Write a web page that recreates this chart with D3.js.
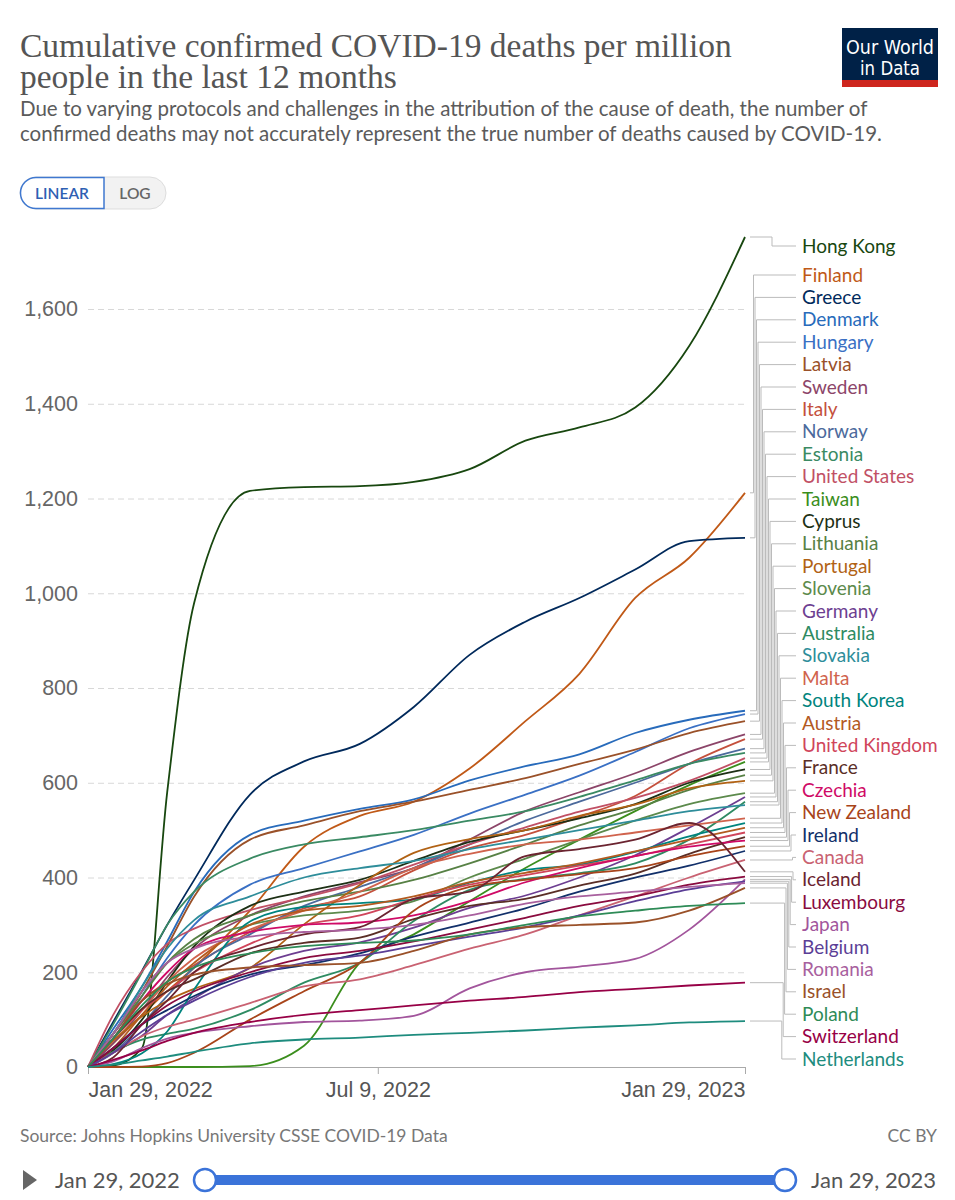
<!DOCTYPE html>
<html>
<head>
<meta charset="utf-8">
<script src="https://cdn.jsdelivr.net/npm/d3@7"></script>
<style>
  body { margin: 0; background: #fff; }
  svg { display: block; font-family: Lato, "Noto Sans", sans-serif; }
</style>
</head>
<body>
<svg id="chart" width="955" height="1200"></svg>
<script>
// Sample dates (shared by every country)
const dates = ["2022-01-29", "2022-02-12", "2022-02-28", "2022-03-14", "2022-03-29",
  "2022-04-29", "2022-05-29", "2022-06-29", "2022-07-29", "2022-08-29",
  "2022-09-29", "2022-10-29", "2022-11-29", "2022-12-29", "2023-01-29"];

const countries = ["Hong Kong", "Finland", "Greece", "Denmark", "Hungary", "Latvia",
  "Sweden", "Italy", "Norway", "Estonia", "United States", "Taiwan", "Cyprus",
  "Lithuania", "Portugal", "Slovenia", "Germany", "Australia", "Slovakia", "Malta",
  "South Korea", "Austria", "United Kingdom", "France", "Czechia", "New Zealand",
  "Ireland", "Canada", "Iceland", "Luxembourg", "Japan", "Belgium", "Romania",
  "Israel", "Poland", "Switzerland", "Netherlands"];

const colors = ["#18470f", "#c05917", "#00295b", "#286bbb", "#3a70c4", "#9a5129",
  "#8c4569", "#c4503c", "#4c6a9c", "#3a8a63", "#c15065", "#3b8e1d", "#1d3015",
  "#578145", "#b16214", "#5c8a4c", "#6d3e91", "#2e8b62", "#2e8d9a", "#d0634d",
  "#00847e", "#b35a1f", "#d0455b", "#5a2e26", "#cf0a66", "#a8441a",
  "#12306a", "#c96272", "#6b2430", "#8a0b3f", "#a2559c", "#5b3e96", "#a8609e",
  "#9a5129", "#2e8b57", "#970046", "#1e8c7e"];

// Cumulative confirmed deaths per million, one row per country, one value per date
const deaths = [
  [0, 3, 40, 580, 980, 1216, 1224, 1226, 1235, 1262, 1322, 1350, 1392, 1522, 1752],
  [0, 50, 110, 160, 210, 330, 465, 530, 560, 630, 730, 830, 990, 1075, 1212],
  [0, 95, 203, 300, 395, 575, 645, 682, 760, 870, 940, 990, 1050, 1110, 1117],
  [0, 80, 170, 265, 370, 490, 520, 545, 565, 605, 635, 660, 705, 733, 752],
  [0, 60, 150, 230, 300, 385, 420, 455, 490, 535, 575, 615, 665, 715, 745],
  [0, 70, 160, 255, 360, 480, 510, 540, 560, 585, 610, 640, 670, 705, 730],
  [0, 50, 120, 190, 250, 320, 360, 390, 420, 480, 540, 580, 620, 665, 702],
  [0, 70, 140, 180, 215, 285, 335, 360, 415, 462, 490, 528, 572, 640, 692],
  [0, 30, 90, 150, 210, 280, 340, 380, 420, 470, 520, 560, 600, 640, 672],
  [0, 90, 200, 300, 370, 440, 470, 485, 500, 520, 540, 570, 605, 640, 663],
  [0, 110, 202, 260, 292, 331, 358, 388, 427, 470, 506, 539, 568, 604, 652],
  [0, 0, 0, 0, 0, 2, 45, 220, 280, 350, 420, 480, 540, 595, 644],
  [0, 35, 100, 180, 255, 340, 370, 395, 435, 475, 500, 525, 555, 600, 628],
  [0, 70, 150, 220, 270, 320, 350, 370, 395, 430, 470, 510, 545, 585, 616],
  [0, 55, 107, 140, 165, 209, 301, 384, 452, 481, 500, 530, 554, 588, 604],
  [0, 70, 160, 220, 260, 300, 320, 330, 350, 400, 440, 480, 520, 555, 578],
  [0, 30, 66, 110, 145, 209, 245, 263, 294, 336, 362, 400, 447, 505, 570],
  [0, 32, 58, 70, 81, 120, 178, 220, 308, 374, 397, 409, 430, 480, 560],
  [0, 70, 170, 250, 310, 360, 400, 420, 435, 460, 480, 500, 520, 540, 553],
  [0, 60, 120, 180, 230, 290, 330, 370, 420, 450, 470, 480, 495, 510, 525],
  [0, 6, 29, 75, 164, 307, 338, 346, 354, 389, 416, 427, 454, 487, 515],
  [0, 40, 110, 170, 220, 300, 330, 340, 360, 390, 410, 430, 455, 480, 505],
  [0, 60, 120, 160, 200, 260, 300, 320, 355, 385, 405, 425, 445, 470, 495],
  [0, 60, 123, 160, 185, 240, 262, 273, 312, 340, 355, 383, 408, 450, 485],
  [0, 60, 140, 200, 250, 285, 300, 305, 320, 350, 390, 420, 445, 465, 478],
  [0, 0, 1, 8, 30, 100, 160, 220, 330, 380, 395, 407, 420, 445, 466],
  [0, 40, 90, 120, 150, 195, 215, 240, 275, 305, 335, 370, 400, 425, 456],
  [0, 30, 65, 85, 100, 135, 170, 185, 215, 250, 280, 320, 360, 400, 437],
  [0, 20, 90, 140, 200, 250, 280, 295, 355, 370, 445, 460, 480, 515, 412],
  [0, 40, 90, 130, 160, 200, 230, 245, 265, 290, 315, 340, 360, 385, 402],
  [0, 12, 40, 60, 72, 86, 95, 98, 108, 166, 200, 212, 228, 290, 396],
  [0, 30, 75, 110, 140, 190, 220, 235, 255, 275, 295, 320, 350, 375, 392],
  [0, 70, 160, 220, 250, 275, 285, 290, 300, 320, 345, 360, 370, 380, 388],
  [0, 60, 140, 175, 195, 210, 215, 220, 245, 280, 295, 300, 305, 330, 378],
  [0, 60, 130, 180, 210, 240, 255, 262, 267, 280, 300, 318, 330, 340, 346],
  [0, 15, 35, 55, 72, 95, 110, 120, 130, 140, 148, 158, 165, 172, 178],
  [0, 5, 14, 22, 32, 50, 58, 62, 68, 72, 77, 83, 88, 94, 97]
];

const yTicks = [0, 200, 400, 600, 800, 1000, 1200, 1400, 1600];
const xTicks = ["2022-01-29", "2022-07-09", "2023-01-29"];

const parse = d3.utcParse("%Y-%m-%d");
const fmtDate = d3.utcFormat("%b %-d, %Y");
const svg = d3.select("#chart");
const plot = { left: 88, right: 745, top: 237, bottom: 1067 };

const x = d3.scaleUtc()
  .domain([parse(dates[0]), parse(dates[dates.length - 1])])
  .range([plot.left, plot.right]);
const y = d3.scaleLinear()
  .domain([0, d3.max(deaths, s => d3.max(s))])
  .range([plot.bottom, plot.top]);

// Header
const title = ["Cumulative confirmed COVID-19 deaths per million", "people in the last 12 months"];
svg.append("g").selectAll("text").data(title).join("text")
  .attr("x", 20).attr("y", (d, i) => 57 + i * 31)
  .attr("fill", "#555")
  .style("font-family", "'Liberation Serif', 'DejaVu Serif', serif")
  .style("font-size", "33.5px")
  .text(d => d);

const subtitle = ["Due to varying protocols and challenges in the attribution of the cause of death, the number of",
  "confirmed deaths may not accurately represent the true number of deaths caused by COVID-19."];
svg.append("g").selectAll("text").data(subtitle).join("text")
  .attr("x", 20).attr("y", (d, i) => 116 + i * 25)
  .attr("fill", "#5b5b5b")
  .style("font-size", "20.5px")
  .text(d => d);

// Logo
const logo = svg.append("g");
logo.append("rect").attr("x", 842).attr("y", 28).attr("width", 96).attr("height", 52).attr("fill", "#002147");
logo.append("rect").attr("x", 842).attr("y", 80).attr("width", 96).attr("height", 7).attr("fill", "#ce261e");
logo.selectAll("text").data(["Our World", "in Data"]).join("text")
  .attr("x", 890).attr("y", (d, i) => 54 + i * 21)
  .attr("text-anchor", "middle").attr("fill", "#fff")
  .attr("textLength", (d, i) => i ? 60 : 88).attr("lengthAdjust", "spacingAndGlyphs")
  .style("font-family", "'Liberation Sans Narrow', 'DejaVu Sans Condensed', sans-serif")
  .style("font-size", "19px")
  .text(d => d);

// Linear / log toggle
const toggle = svg.append("g");
toggle.append("rect").attr("x", 20).attr("y", 177).attr("width", 146).attr("height", 32).attr("rx", 16)
  .attr("fill", "#f2f2f2").attr("stroke", "#ddd");
toggle.append("path")
  .attr("d", "M104,177.5 H36 A15.5,15.5 0 0 0 36,208.5 H104 Z")
  .attr("fill", "#fff").attr("stroke", "#3f78d0").attr("stroke-width", 1.5);
toggle.append("text").attr("x", 62).attr("y", 199).attr("text-anchor", "middle")
  .attr("fill", "#2f5fb3").style("font-size", "15.5px").style("font-weight", 600).text("LINEAR");
toggle.append("text").attr("x", 135).attr("y", 199).attr("text-anchor", "middle")
  .attr("fill", "#666").style("font-size", "15.5px").style("font-weight", 600).text("LOG");

// Y axis with dashed grid
const yAxis = svg.append("g").attr("transform", `translate(${plot.left},0)`)
  .call(d3.axisLeft(y).tickValues(yTicks).tickSize(-(plot.right - plot.left))
    .tickPadding(10).tickFormat(d3.format(",")));
yAxis.select(".domain").remove();
yAxis.selectAll(".tick line").attr("stroke", "#d8d8d8").attr("stroke-dasharray", "6,4");
yAxis.selectAll(".tick").filter(d => d === 0).select("line").remove();
yAxis.selectAll(".tick text").attr("fill", "#666").style("font-size", "21.5px");

// X axis
const xAxis = svg.append("g").attr("transform", `translate(0,${plot.bottom})`)
  .call(d3.axisBottom(x).tickValues(xTicks.map(parse)).tickSize(7).tickSizeOuter(0)
    .tickPadding(8).tickFormat(fmtDate));
xAxis.select(".domain").attr("stroke", "#aaa");
xAxis.selectAll(".tick line").attr("stroke", "#aaa");
xAxis.selectAll(".tick text").attr("fill", "#555").style("font-size", "21.5px")
  .attr("text-anchor", (d, i) => i === 0 ? "start" : i === xTicks.length - 1 ? "end" : "middle");

// Lines
const line = d3.line()
  .x((d, i) => x(parse(dates[i])))
  .y(d => y(d))
  .curve(d3.curveMonotoneX);

svg.append("g").selectAll("path").data(deaths).join("path")
  .attr("d", line)
  .attr("fill", "none")
  .attr("stroke", (d, i) => colors[i])
  .attr("stroke-width", 1.8)
  .attr("stroke-linejoin", "round");

// End labels, pushed apart so they don't overlap
const gap = 22.4, minY = 246, maxY = 1059;
const labels = countries.map((name, i) => ({
  name, color: colors[i], ey: y(deaths[i][deaths[i].length - 1])
})).sort((a, b) => a.ey - b.ey);
const n = labels.length;
labels.forEach(d => { d.ly = Math.min(maxY, Math.max(minY, d.ey)); });
for (let i = 1; i < n; i++) labels[i].ly = Math.max(labels[i].ly, labels[i - 1].ly + gap);
labels[n - 1].ly = Math.min(labels[n - 1].ly, maxY);
for (let i = n - 2; i >= 0; i--) labels[i].ly = Math.min(labels[i].ly, labels[i + 1].ly - gap);
labels[0].ly = Math.max(labels[0].ly, minY);
for (let i = 1; i < n; i++) labels[i].ly = Math.max(labels[i].ly, labels[i - 1].ly + gap);

const firstBelow = labels.findIndex((d, i) => i > 0 && d.ly > d.ey + 1);
labels.forEach((d, i) => {
  if (i === 0) d.mid = 772;
  else if (firstBelow < 0 || i < firstBelow) d.mid = 752 + i * 1.5;
  else d.mid = 793 - (i - firstBelow) * 1.4;
});

const legend = svg.append("g");
legend.selectAll("path").data(labels).join("path")
  .attr("d", d => `M${plot.right + 5},${d.ey}H${d.mid}V${d.ly}H796`)
  .attr("fill", "none").attr("stroke", "#bbb").attr("stroke-width", 1);
legend.selectAll("text").data(labels).join("text")
  .attr("x", 802).attr("y", d => d.ly).attr("dy", "0.35em")
  .attr("fill", d => d.color).style("font-size", "19px")
  .text(d => d.name);

// Footer
svg.append("text").attr("x", 20).attr("y", 1142).attr("fill", "#777").style("font-size", "17.5px")
  .text("Source: Johns Hopkins University CSSE COVID-19 Data");
svg.append("text").attr("x", 937).attr("y", 1142).attr("text-anchor", "end").attr("fill", "#777")
  .style("font-size", "17.5px").text("CC BY");

// Timeline
const tl = svg.append("g");
tl.append("path").attr("d", "M23,1170 L37,1180 L23,1190 Z").attr("fill", "#666");
tl.append("text").attr("x", 55).attr("y", 1188).attr("fill", "#555").style("font-size", "22px")
  .text(fmtDate(parse(dates[0])));
tl.append("text").attr("x", 936).attr("y", 1188).attr("text-anchor", "end").attr("fill", "#555")
  .style("font-size", "22px").text(fmtDate(parse(dates[dates.length - 1])));
tl.append("rect").attr("x", 205).attr("y", 1175).attr("width", 580).attr("height", 10)
  .attr("fill", "#3b73d9");
tl.selectAll("circle").data([205, 785]).join("circle")
  .attr("cx", d => d).attr("cy", 1180).attr("r", 11)
  .attr("fill", "#fff").attr("stroke", "#3b73d9").attr("stroke-width", 2.5);
</script>
</body>
</html>
